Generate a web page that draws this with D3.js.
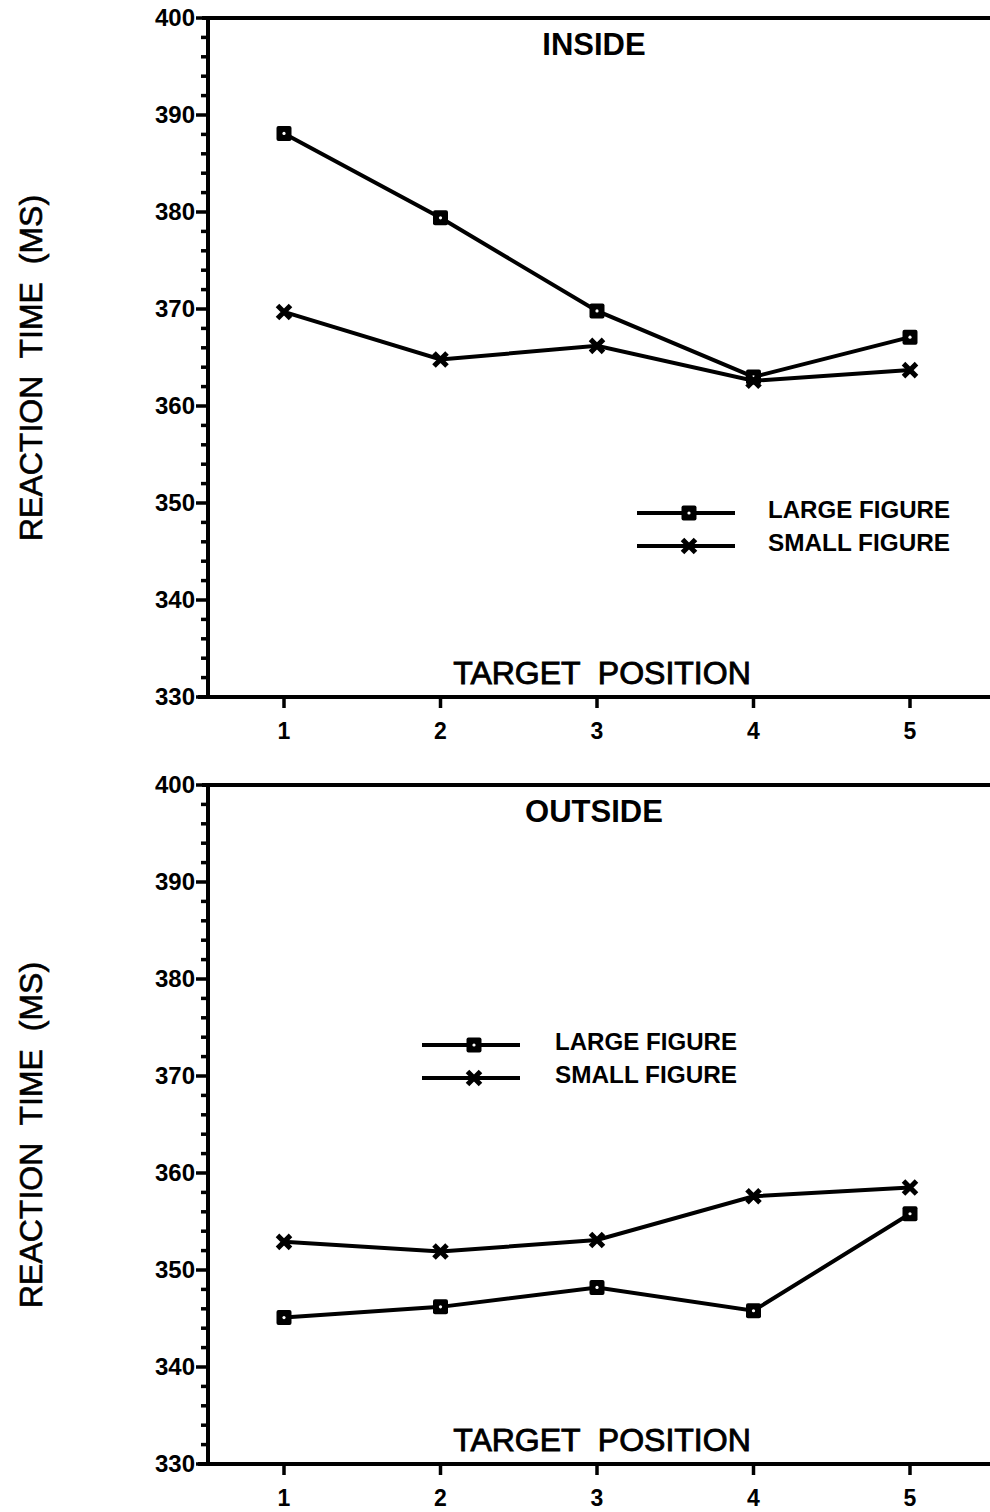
<!DOCTYPE html>
<html>
<head>
<meta charset="utf-8">
<script src="https://cdn.jsdelivr.net/npm/d3@7"></script>
<style>
  body { margin: 0; background: #fff; }
  svg { display: block; font-family: "Liberation Sans", Arial, sans-serif; }
</style>
</head>
<body>
<div id="chart"></div>
<script>
// data
const positions = [1, 2, 3, 4, 5];
const yTicks = [330, 340, 350, 360, 370, 380, 390, 400];
const seriesNames = ["LARGE FIGURE", "SMALL FIGURE"];

const insideLarge = [388.1, 379.4, 369.8, 363.0, 367.1];
const insideSmall = [369.7, 364.8, 366.2, 362.6, 363.7];
const outsideLarge = [345.1, 346.2, 348.2, 345.8, 355.8];
const outsideSmall = [352.9, 351.9, 353.1, 357.6, 358.5];

const width = 990, height = 1512;
const svg = d3.select("#chart").append("svg")
  .attr("width", width).attr("height", height);

const panels = [
  { title: "INSIDE", top: 18, bottom: 697, large: insideLarge, small: insideSmall,
    legend: { x0: 637, x1: 735, y: 513, tx: 768 }, labelY: 368 },
  { title: "OUTSIDE", top: 785, bottom: 1464, large: outsideLarge, small: outsideSmall,
    legend: { x0: 422, x1: 520, y: 1045, tx: 555 }, labelY: 1135 },
];

const axisX = 208;

function squareMarker(sel) {
  sel.append("rect")
    .attr("x", -7.5).attr("y", -7.5).attr("width", 15).attr("height", 15)
    .attr("rx", 2).attr("fill", "#000");
  sel.append("circle").attr("r", 1.6).attr("fill", "#fff");
}

function crossMarker(sel) {
  sel.append("path")
    .attr("d", "M-6.5,-6.5L6.5,6.5M6.5,-6.5L-6.5,6.5")
    .attr("stroke", "#000").attr("stroke-width", 5)
    .attr("fill", "none");
}

panels.forEach((p) => {
  const g = svg.append("g");
  const x = d3.scaleLinear().domain([1, 5]).range([284, 910]);
  const y = d3.scaleLinear().domain([330, 400]).range([p.bottom, p.top]);

  // frame: left axis, top line, bottom axis
  g.append("line")
    .attr("x1", axisX).attr("x2", axisX)
    .attr("y1", y(400)).attr("y2", y(330))
    .attr("stroke", "#000").attr("stroke-width", 4);
  g.append("line")
    .attr("x1", axisX - 6).attr("x2", width)
    .attr("y1", y(400)).attr("y2", y(400))
    .attr("stroke", "#000").attr("stroke-width", 4);
  g.append("line")
    .attr("x1", axisX - 10).attr("x2", width)
    .attr("y1", y(330)).attr("y2", y(330))
    .attr("stroke", "#000").attr("stroke-width", 4);

  // y ticks: major every 10, minor every 2
  const minor = d3.range(330, 401, 2).filter((v) => v % 10 !== 0);
  g.selectAll(".ymin").data(minor).join("line")
    .attr("x1", axisX - 7).attr("x2", axisX)
    .attr("y1", (d) => y(d)).attr("y2", (d) => y(d))
    .attr("stroke", "#000").attr("stroke-width", 3.5);
  g.selectAll(".ymaj").data(yTicks).join("line")
    .attr("x1", axisX - 12).attr("x2", axisX)
    .attr("y1", (d) => y(d)).attr("y2", (d) => y(d))
    .attr("stroke", "#000").attr("stroke-width", 3.5);
  g.selectAll(".ylab").data(yTicks).join("text")
    .attr("x", 195).attr("y", (d) => y(d) + 8)
    .attr("text-anchor", "end")
    .attr("font-size", 24).attr("font-weight", "bold")
    .text((d) => d);

  // x ticks
  g.selectAll(".xt").data(positions).join("line")
    .attr("x1", (d) => x(d)).attr("x2", (d) => x(d))
    .attr("y1", y(330)).attr("y2", y(330) + 11)
    .attr("stroke", "#000").attr("stroke-width", 3.5);
  g.selectAll(".xlab").data(positions).join("text")
    .attr("x", (d) => x(d)).attr("y", y(330) + 42)
    .attr("text-anchor", "middle")
    .attr("font-size", 23).attr("font-weight", "bold")
    .text((d) => d);

  // titles
  g.append("text")
    .attr("x", 594).attr("y", y(400) + 37)
    .attr("text-anchor", "middle")
    .attr("font-size", 31).attr("font-weight", "bold")
    .text(p.title);
  g.append("text")
    .attr("x", 602).attr("y", y(330) - 13)
    .attr("text-anchor", "middle")
    .attr("font-size", 32)
    .attr("stroke", "#000").attr("stroke-width", 0.9)
    .attr("xml:space", "preserve")
    .text("TARGET  POSITION");
  g.append("text")
    .attr("transform", `translate(42,${p.labelY}) rotate(-90)`)
    .attr("text-anchor", "middle")
    .attr("font-size", 32)
    .attr("stroke", "#000").attr("stroke-width", 0.6)
    .attr("xml:space", "preserve")
    .text("REACTION  TIME  (MS)");

  // series
  const line = d3.line().x((d, i) => x(positions[i])).y((d) => y(d));
  [p.large, p.small].forEach((vals, si) => {
    g.append("path")
      .attr("d", line(vals))
      .attr("fill", "none").attr("stroke", "#000").attr("stroke-width", 4);
    g.selectAll(null).data(vals).join("g")
      .attr("transform", (d, i) => `translate(${x(positions[i])},${y(d)})`)
      .each(function () { (si === 0 ? squareMarker : crossMarker)(d3.select(this)); });
  });

  // legend
  const L = p.legend;
  seriesNames.forEach((name, i) => {
    const ly = L.y + i * 33;
    g.append("line")
      .attr("x1", L.x0).attr("x2", L.x1).attr("y1", ly).attr("y2", ly)
      .attr("stroke", "#000").attr("stroke-width", 4);
    const m = g.append("g").attr("transform", `translate(${(L.x0 + L.x1) / 2 + 3},${ly})`);
    (i === 0 ? squareMarker : crossMarker)(m);
    g.append("text")
      .attr("x", L.tx).attr("y", ly + 5)
      .attr("font-size", 23).attr("font-weight", "bold")
      .attr("textLength", 182).attr("lengthAdjust", "spacingAndGlyphs")
      .text(name);
  });
});
</script>
</body>
</html>
